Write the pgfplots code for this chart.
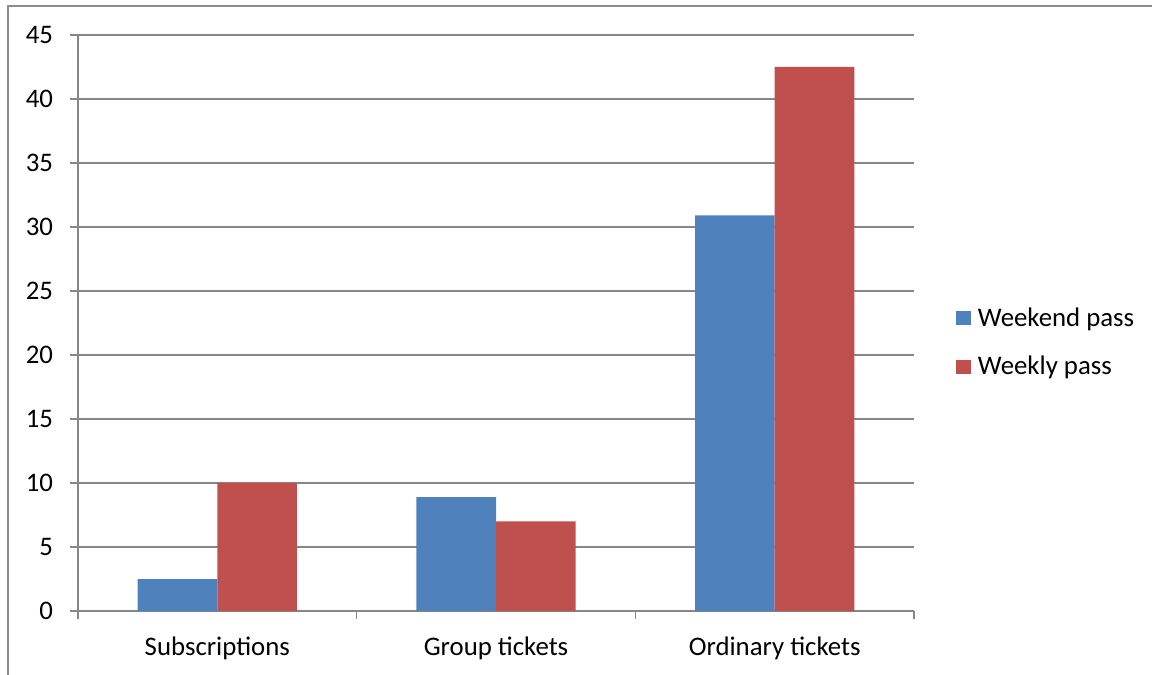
\documentclass[border=0pt]{standalone}
\usepackage{pgfplots}
\pgfplotsset{compat=1.18}
\usepackage{fontspec}
\setmainfont{Carlito}
\definecolor{wkndblue}{HTML}{4F81BD}
\definecolor{wklyred}{HTML}{C0504D}
\definecolor{gridgray}{HTML}{868686}
\definecolor{framegray}{HTML}{8C8C8C}

\pgfplotsset{
  sqlegend/.style={legend image code/.code={%
      \fill[##1] (0pt,-3.6pt) rectangle (7.25pt,3.65pt);}},
}

\begin{document}
\begin{tikzpicture}[x=1pt,y=1pt,font=\fontsize{13.4}{16}\selectfont]
\useasboundingbox (0,0) rectangle (576,337.5);
% chart frame
\draw[framegray, line width=0.6pt] (4,0) -- (4,334.5) -- (576.5,334.5);
\begin{axis}[
  at={(39pt,32pt)}, anchor=south west,
  scale only axis, width=418pt, height=288pt,
  xmin=-0.5, xmax=2.5, ymin=0, ymax=45,
  ytick={0,5,...,45},
  xtick={-0.5,0.5,1.5,2.5},
  xticklabel=\empty,
  extra x ticks={0,1,2},
  extra x tick labels={Subscriptions, Group tickets, Ordinary tickets},
  extra x tick style={tick style={draw=none}},
  axis lines*=left,
  axis line style={gridgray, line width=0.6pt, -},
  ymajorgrids,
  major grid style={gridgray, line width=0.6pt},
  tick align=outside,
  major tick length=4pt,
  tick style={gridgray, line width=0.6pt},
  /pgf/number format/assume math mode=true,
  yticklabel style={anchor=east, xshift=-5pt},
  xticklabel style={anchor=north, yshift=-5.5pt},
  legend style={draw=none, fill=none, inner sep=0pt,
    at={(1.0502,0.466)}, anchor=west,
    row sep=13.5pt, column sep=3.5pt,
    nodes={inner sep=0pt}},
  legend cell align=left,
]
\addplot[ybar, sqlegend, bar width=0.2857, bar shift=-0.14286,
  fill=wkndblue, draw=none]
  coordinates {(0,2.5) (1,8.9) (2,30.9)};
\addplot[ybar, sqlegend, bar width=0.2857, bar shift=0.14286,
  fill=wklyred, draw=none]
  coordinates {(0,10) (1,7) (2,42.5)};
\legend{Weekend pass, Weekly pass}
\end{axis}
\end{tikzpicture}
\end{document}
